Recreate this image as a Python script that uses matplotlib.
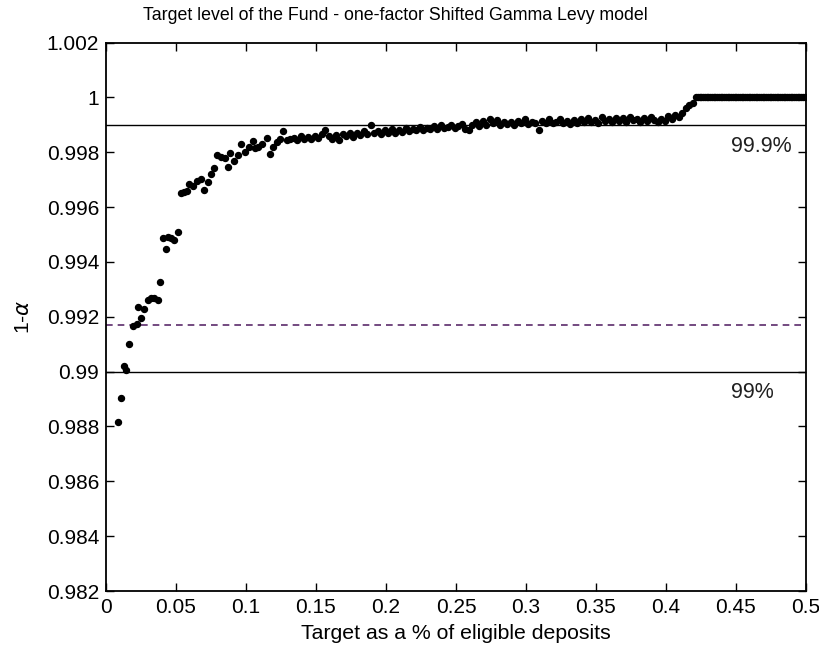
import numpy as np
import matplotlib
matplotlib.use("Agg")
import matplotlib.pyplot as plt

plt.rcParams['font.family'] = ['Liberation Sans', 'DejaVu Sans']
plt.rcParams['mathtext.fontset'] = 'dejavusans'

# --- data ---
x_early = [0.0088, 0.0107, 0.0131, 0.0145, 0.0167, 0.0190, 0.0219, 0.0226, 0.0250, 0.0274,
           0.0298, 0.0321, 0.0345, 0.0369, 0.0388, 0.0405, 0.0429, 0.0440, 0.0464, 0.0488,
           0.0512, 0.0535, 0.0555, 0.0575, 0.0595, 0.0620, 0.0648, 0.0678, 0.0702, 0.0731,
           0.0752, 0.0774, 0.0790, 0.0821, 0.0850, 0.0874, 0.0886, 0.0916, 0.0945, 0.0964,
           0.0993, 0.1021, 0.1052, 0.1064, 0.1088, 0.1116, 0.1148, 0.1171, 0.1195, 0.1219,
           0.1243, 0.1267, 0.1290, 0.1314]
y_early = [0.98818, 0.98905, 0.99021, 0.99005, 0.99100, 0.99168, 0.99173, 0.99236, 0.99196, 0.99230,
           0.99261, 0.99267, 0.99269, 0.99261, 0.99327, 0.99486, 0.99449, 0.99492, 0.99486, 0.99480,
           0.99510, 0.99650, 0.99654, 0.99658, 0.99683, 0.99678, 0.99695, 0.99702, 0.99662, 0.99692,
           0.99720, 0.99741, 0.99790, 0.99784, 0.99780, 0.99747, 0.99796, 0.99768, 0.99790, 0.99829,
           0.99802, 0.99820, 0.99841, 0.99814, 0.99820, 0.99832, 0.99853, 0.99792, 0.99820, 0.99838,
           0.99850, 0.99877, 0.99845, 0.99850]

x_mid_start = 0.134
x_mid_step = 0.0025
y_mid = [0.99852, 0.99846, 0.99858, 0.99850, 0.99855, 0.99848, 0.99860, 0.99853, 0.99866, 0.99880,
         0.99858, 0.99850, 0.99862, 0.99845, 0.99866, 0.99858, 0.99870, 0.99855, 0.99872, 0.99862,
         0.99876, 0.99868, 0.99900, 0.99870, 0.99878, 0.99866, 0.99880, 0.99872, 0.99885, 0.99870,
         0.99882, 0.99875, 0.99890, 0.99878, 0.99886, 0.99880, 0.99893, 0.99882, 0.99890, 0.99884,
         0.99895, 0.99886, 0.99898, 0.99888, 0.99892, 0.99900, 0.99887, 0.99896, 0.99902, 0.99884,
         0.99880, 0.99898, 0.99910, 0.99895, 0.99915, 0.99900, 0.99922, 0.99905, 0.99918, 0.99898,
         0.99912, 0.99902, 0.99910, 0.99900, 0.99915, 0.99905, 0.99920, 0.99902, 0.99912, 0.99906,
         0.99880, 0.99915, 0.99905, 0.99920, 0.99908, 0.99912, 0.99922, 0.99906, 0.99914, 0.99904,
         0.99916, 0.99908, 0.99920, 0.99910, 0.99925, 0.99912, 0.99918, 0.99908, 0.99928, 0.99915,
         0.99922, 0.99912, 0.99926, 0.99914, 0.99924, 0.99910, 0.99928, 0.99916, 0.99922, 0.99912,
         0.99925, 0.99915, 0.99930, 0.99918, 0.99910, 0.99922, 0.99915, 0.99932, 0.99920, 0.99935,
         0.99930, 0.99945, 0.99960, 0.99972, 0.99980]

# flat part at 1: points lie so close together that they form a solid bar
x_flat_start = 0.4215
x_flat_step = 0.00125
y_flat = [1.0] * 63

level_999 = 0.999
level_99 = 0.99
level_dashed = 0.99169
title = "Target level of the Fund - one-factor Shifted Gamma Levy model"
xlabel = "Target as a % of eligible deposits"
ylabel = "1-$\\alpha$"
xticks = [0, 0.05, 0.1, 0.15, 0.2, 0.25, 0.3, 0.35, 0.4, 0.45, 0.5]
xticklabels = ["0", "0.05", "0.1", "0.15", "0.2", "0.25", "0.3", "0.35", "0.4", "0.45", "0.5"]
yticks = [0.982, 0.984, 0.986, 0.988, 0.99, 0.992, 0.994, 0.996, 0.998, 1.0, 1.002]
yticklabels = ["0.982", "0.984", "0.986", "0.988", "0.99", "0.992", "0.994", "0.996", "0.998", "1", "1.002"]

x_mid = x_mid_start + x_mid_step * np.arange(len(y_mid))
x_flat = x_flat_start + x_flat_step * np.arange(len(y_flat))
x_all = np.concatenate([x_early, x_mid, x_flat])
y_all = np.concatenate([y_early, y_mid, y_flat])

fig = plt.figure(figsize=(8.19, 6.53), dpi=100)
ax = fig.add_axes([106/819, 1 - 591/653, 700/819, (591 - 42.6)/653])

ax.axhline(level_999, color='black', lw=1.0, zorder=1)
ax.axhline(level_99, color='black', lw=1.0, zorder=1)
ax.axhline(level_dashed, color='#5b2b6b', lw=1.2, ls=(0, (4, 3)), zorder=1)
ax.plot(x_all, y_all, 'o', color='black', ms=4.3, mec='black', zorder=3)

ax.text(0.4465, 0.99822, "99.9%", fontsize=15.5, va='center', ha='left', color='#202020')
ax.text(0.4465, 0.98925, "99%", fontsize=15.5, va='center', ha='left', color='#202020')

ax.set_xlim(0, 0.5)
ax.set_ylim(0.982, 1.002)
ax.set_xticks(xticks)
ax.set_xticklabels(xticklabels)
ax.set_yticks(yticks)
ax.set_yticklabels(yticklabels)
ax.tick_params(direction='in', top=True, right=True, length=6, width=1.0,
               labelsize=15, pad=5, colors='black')
for s in ax.spines.values():
    s.set_linewidth(1.3)
ax.set_title(title, fontsize=12.8, pad=16, x=0.413)
ax.set_xlabel(xlabel, fontsize=15.3, labelpad=5)
ax.set_ylabel(ylabel, fontsize=15.3, labelpad=10)

fig.savefig("out.png", dpi=100)
